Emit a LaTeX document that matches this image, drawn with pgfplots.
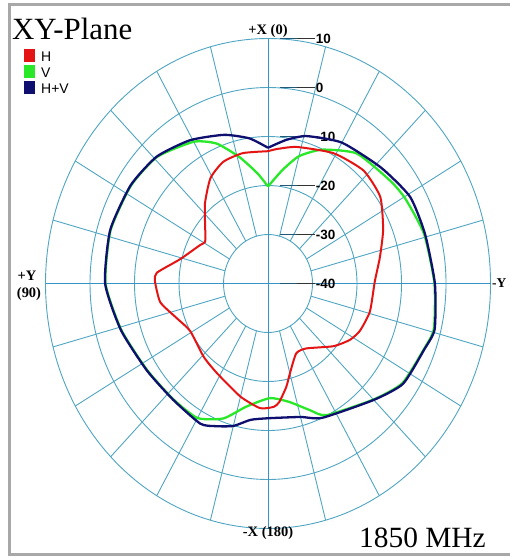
\documentclass[border=0pt]{standalone}
\usepackage{pgfplots}
\pgfplotsset{compat=1.18}
\usepackage{pgfplotstable}
\usepackage{fontspec}
\setmainfont{Liberation Serif}
\setsansfont{Liberation Sans}

\definecolor{gridc}{RGB}{80,165,195}
\definecolor{axc}{RGB}{55,148,200}
\definecolor{hcol}{RGB}{228,20,20}
\definecolor{vcol}{RGB}{40,232,40}
\definecolor{hvcol}{RGB}{15,15,112}
\definecolor{framec}{RGB}{168,168,168}

% angle in degrees (0 = +X, counting towards +Y), level in dB
\pgfplotstableread{
ang db
0 -13.0
12 -12.8
22 -13.2
31 -14.9
41 -18.4
52 -22.1
59 -23.5
63 -22.8
76 -19.6
85 -14.9
89 -14.6
99 -15.5
109 -18.3
119 -20.0
136 -19.2
148 -18.4
165 -16.1
176 -14.5
183 -14.8
186 -15.7
191 -18.5
195 -21.0
204 -24.4
213 -24.2
229 -20.5
238 -18.3
245 -17.2
256 -16.4
271 -16.0
282 -14.3
293 -11.9
305 -9.2
317 -8.5
331 -9.6
347 -11.4
356 -12.5
360 -13.0
}\hdata

\pgfplotstableread{
ang db
0 -20.2
6 -17.4
14 -13.4
22 -9.2
30 -6.6
44 -4.1
57 -3.3
73 -3.0
90 -3.5
106 -5.7
123 -7.6
138 -8.2
150 -8.3
160 -10.7
169 -14.4
181 -16.6
191 -15.4
200 -12.5
206 -10.1
225 -6.5
236 -3.6
249 -2.5
256 -1.6
270 -2.6
286 -3.5
299 -4.6
307 -5.4
323 -6.8
336 -10.1
345 -13.1
352 -16.6
360 -20.2
}\vdata

\pgfplotstableread{
ang db
0 -12.3
8 -10.1
18 -8.1
31 -5.9
44 -4.0
57 -3.2
73 -2.9
90 -3.4
106 -5.6
123 -7.5
138 -8.1
152 -7.6
158 -8.6
165 -9.9
172 -11.9
180 -12.5
195 -11.8
204 -10.0
225 -6.4
236 -3.4
249 -2.4
256 -1.4
270 -2.5
286 -3.3
299 -3.5
313 -5.3
330 -6.8
344 -8.7
352 -10.4
360 -12.3
}\hvdata

% pixel position of the reference picture -> axis
\newcommand{\px}[2]{rel axis cs:{(#1)/509},{1-(#2)/558}}

\pgfplotsset{
  pattern/.style={
    smooth, tension=0.35, line width=2.3bp, line join=round
  }
}

\begin{document}
\begin{tikzpicture}
\begin{axis}[
  scale only axis,
  width=509bp, height=558bp,
  xmin=-60.225, xmax=54.157,
  ymin=-56.02, ymax=57.86,
  hide axis, clip=false
]
  % frame
  \draw[framec, line width=3bp] (\px{10}{5}) -- (\px{520}{5});
  \draw[framec, line width=3bp] (\px{10}{3.5}) -- (\px{10}{556.5});
  \draw[framec, line width=3bp] (\px{10}{555}) -- (\px{520}{555});

  % rings
  \pgfplotsinvokeforeach{10,20,30,40,50}{
    \draw[gridc, line width=0.9bp] (axis cs:0,0) ellipse [x radius=#1, y radius=#1];
  }
  % spokes
  \pgfplotsinvokeforeach{15,30,...,345}{
    \draw[gridc, line width=0.9bp] (axis cs:{-10*sin(#1)},{10*cos(#1)}) -- (axis cs:{-50*sin(#1)},{50*cos(#1)});
  }
  \draw[axc, line width=1bp] (axis cs:0,-50) -- (axis cs:0,50);
  \draw[axc, line width=1bp] (axis cs:-50,0) -- (axis cs:50,0);

  % level labels
  \pgfplotsinvokeforeach{0,10,20,30,40,50}{
    \draw[black!80, line width=0.7bp] (axis cs:2.7,#1) -- (axis cs:10.6,#1);
    \draw[axc!60!black, line width=1.6bp] (axis cs:2.7,#1) -- (axis cs:6.5,#1);
  }
  \foreach \r/\t in {50/10,40/0,30/-10,20/-20,10/-30,0/-40}{
    \edef\temp{\noexpand\node[anchor=west, inner sep=0.5bp,
      font=\noexpand\sffamily\noexpand\bfseries\noexpand\fontsize{13.5}{13.5}\noexpand\selectfont]
      at (axis cs:10.6,\r) {\t};}
    \temp
  }

  % pattern curves
  \addplot[pattern, vcol] table[
    x expr={-(\thisrow{db}+40)*sin(\thisrow{ang})},
    y expr={(\thisrow{db}+40)*cos(\thisrow{ang})}] {\vdata};
  \addplot[pattern, hvcol] table[
    x expr={-(\thisrow{db}+40)*sin(\thisrow{ang})},
    y expr={(\thisrow{db}+40)*cos(\thisrow{ang})}] {\hvdata};
  \addplot[pattern, hcol, line width=2bp] table[
    x expr={-(\thisrow{db}+40)*sin(\thisrow{ang})},
    y expr={(\thisrow{db}+40)*cos(\thisrow{ang})}] {\hdata};

  % direction labels
  \node[anchor=base, inner sep=0, font=\bfseries\fontsize{14.5}{14.5}\selectfont]
    at (\px{268}{35}) {+X (0)};
  \node[anchor=base, inner sep=0, font=\bfseries\fontsize{14.5}{14.5}\selectfont]
    at (\px{268}{537}) {-X (180)};
  \node[anchor=base, inner sep=0, font=\bfseries\fontsize{14.5}{14.5}\selectfont]
    at (\px{27}{281}) {+Y};
  \node[anchor=base, inner sep=0, font=\bfseries\fontsize{14.5}{14.5}\selectfont]
    at (\px{29}{298}) {(90)};
  \node[anchor=base west, inner sep=0, font=\bfseries\fontsize{13.5}{13.5}\selectfont]
    at (\px{492}{288}) {-Y};

  % title and frequency
  \node[anchor=base west, inner sep=0, font=\fontsize{31}{31}\selectfont]
    at (\px{12}{40}) {XY-Plane};
  \node[anchor=base west, inner sep=0, font=\fontsize{29.5}{29.5}\selectfont]
    at (\px{359}{548}) {1850 MHz};

  % legend
  \fill[hcol] (\px{24}{49}) rectangle (\px{35}{62});
  \fill[vcol] (\px{24}{65}) rectangle (\px{35}{78});
  \fill[hvcol] (\px{24}{81}) rectangle (\px{35}{94});
  \node[anchor=base west, inner sep=0, font=\sffamily\fontsize{14}{14}\selectfont]
    at (\px{41}{62}) {H};
  \node[anchor=base west, inner sep=0, font=\sffamily\fontsize{14}{14}\selectfont]
    at (\px{41}{78}) {V};
  \node[anchor=base west, inner sep=0, font=\sffamily\fontsize{14}{14}\selectfont]
    at (\px{41}{94}) {H+V};
\end{axis}
\pgfresetboundingbox
\path (current axis.south west) rectangle (current axis.north east);
\end{tikzpicture}
\end{document}
